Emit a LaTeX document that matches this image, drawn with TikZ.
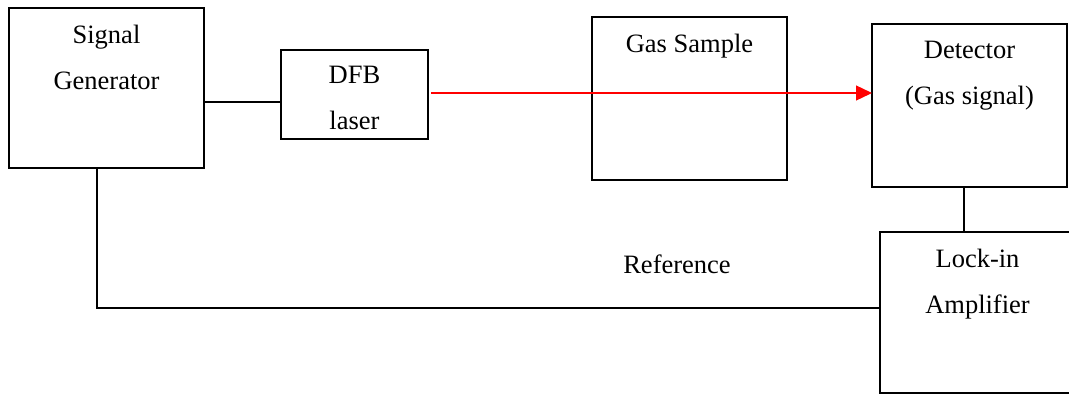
\documentclass[tikz,border=0pt]{standalone}
\usepackage{fontspec}
\setmainfont{Liberation Serif}
\usetikzlibrary{arrows.meta, positioning}

\begin{document}
\begin{tikzpicture}[x=1pt, y=-1pt,
  box/.style={draw, line width=1.4pt, minimum width=195pt, anchor=north west, inner sep=0pt, outer sep=0pt},
  txt/.style={font=\fontsize{26.5}{46}\selectfont, align=center, inner sep=0pt, anchor=north},
  wire/.style={line width=1.4pt},
  beam/.style={line width=1.3pt, red, -{Triangle[length=16pt, width=15pt]}}]
\useasboundingbox (0,0) rectangle (1069,394);
\clip (0,0) rectangle (1069,394);
% cajas
\node[box, minimum height=160pt] (sg) at (9,8) {};
\node[box, minimum width=147pt, minimum height=89pt] (dfb) at (281,50) {};
\node[box, minimum height=163pt] (gas) at (592,17) {};
\node[box, minimum height=163pt] (det) at (872,24) {};
\node[box, minimum height=161pt] (lock) at (880,232) {};
% textos
\node[txt, below=17pt of sg.north] (sgt) {Signal\\Generator};
\node[txt, below=16pt of dfb.north] (dfbt) {DFB\\laser};
\node[txt, below=17pt of gas.north] (gast) {Gas Sample};
\node[txt, below=17pt of det.north] (dett) {Detector\\(Gas signal)};
\node[txt, below=17pt of lock.north] (lockt) {Lock-in\\Amplifier};
\node[font=\fontsize{26.5}{30}\selectfont, anchor=base] (ref) at (677,273) {Reference};
% conexiones
\draw[wire] (sg.east |- 0,102) -- (dfb.west |- 0,102);
\draw[beam, shorten <=3pt] (dfb.east |- 0,93) -- (det.west |- 0,93);
\draw[wire] (det.south -| 964,0) -- (lock.north -| 964,0);
\draw[wire] (sg.south -| 97,0) |- (lock.west |- 0,308);
\end{tikzpicture}
\end{document}
